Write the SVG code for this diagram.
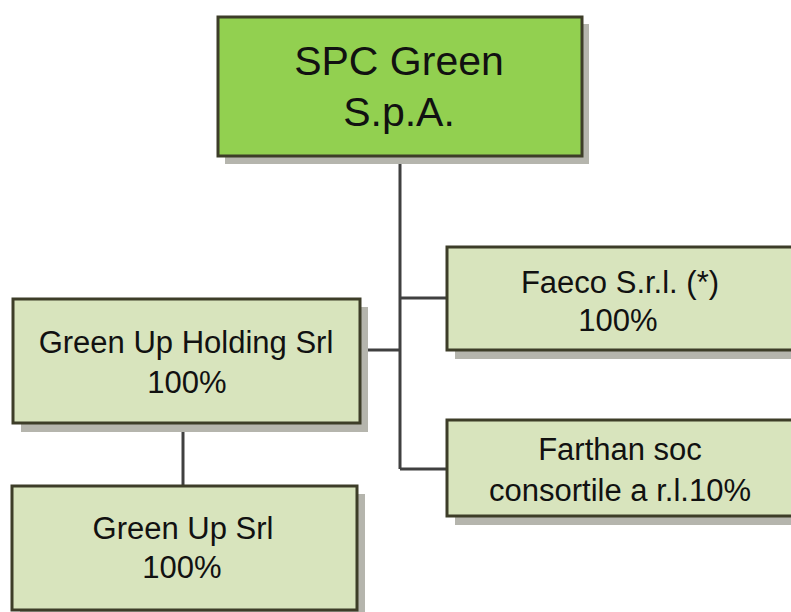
<svg xmlns="http://www.w3.org/2000/svg" width="791" height="612" viewBox="0 0 791 612">
<style>
.sh{fill:#b5b5ad}
.box{stroke:#3d3d28;stroke-width:3}
.main{fill:#92d050}
.sub{fill:#d8e4bd}
.t{font-family:"Liberation Sans",Arial,sans-serif;fill:#111;text-anchor:middle;font-size:31px}
.big{font-size:41px}
.conn{stroke:#404040;stroke-width:3;fill:none}
</style>
<rect width="791" height="612" fill="#ffffff"/>
<g id="connectors">
<line class="conn" x1="400" y1="156" x2="400" y2="469"/>
<line class="conn" x1="400" y1="298" x2="447" y2="298"/>
<line class="conn" x1="360" y1="350" x2="400" y2="350"/>
<line class="conn" x1="400" y1="469" x2="447" y2="469"/>
<line class="conn" x1="183" y1="423" x2="183" y2="486"/>
</g>
<g id="spc-green">
<rect class="sh" x="225" y="24" width="364" height="140"/>
<rect class="box main" x="218" y="17" width="364" height="139"/>
<text class="t big" x="399" y="75">SPC Green</text>
<text class="t big" x="399" y="126">S.p.A.</text>
</g>
<g id="green-up-holding">
<rect class="sh" x="21" y="307" width="347" height="125"/>
<rect class="box sub" x="13" y="299" width="347" height="124"/>
<text class="t" x="186" y="353">Green Up Holding Srl</text>
<text class="t" x="187" y="393">100%</text>
</g>
<g id="faeco">
<rect class="sh" x="455" y="255" width="347" height="104"/>
<rect class="box sub" x="447" y="247" width="347" height="103"/>
<text class="t" x="620" y="293">Faeco S.r.l. (*)</text>
<text class="t" x="618" y="331">100%</text>
</g>
<g id="farthan">
<rect class="sh" x="455" y="428" width="347" height="97"/>
<rect class="box sub" x="447" y="420" width="347" height="96"/>
<text class="t" x="620" y="460">Farthan soc</text>
<text class="t" x="620" y="501">consortile a r.l.10%</text>
</g>
<g id="green-up-srl">
<rect class="sh" x="20" y="494" width="345" height="125"/>
<rect class="box sub" x="12" y="486" width="345" height="124"/>
<text class="t" x="183" y="539">Green Up Srl</text>
<text class="t" x="182" y="578">100%</text>
</g>
</svg>
